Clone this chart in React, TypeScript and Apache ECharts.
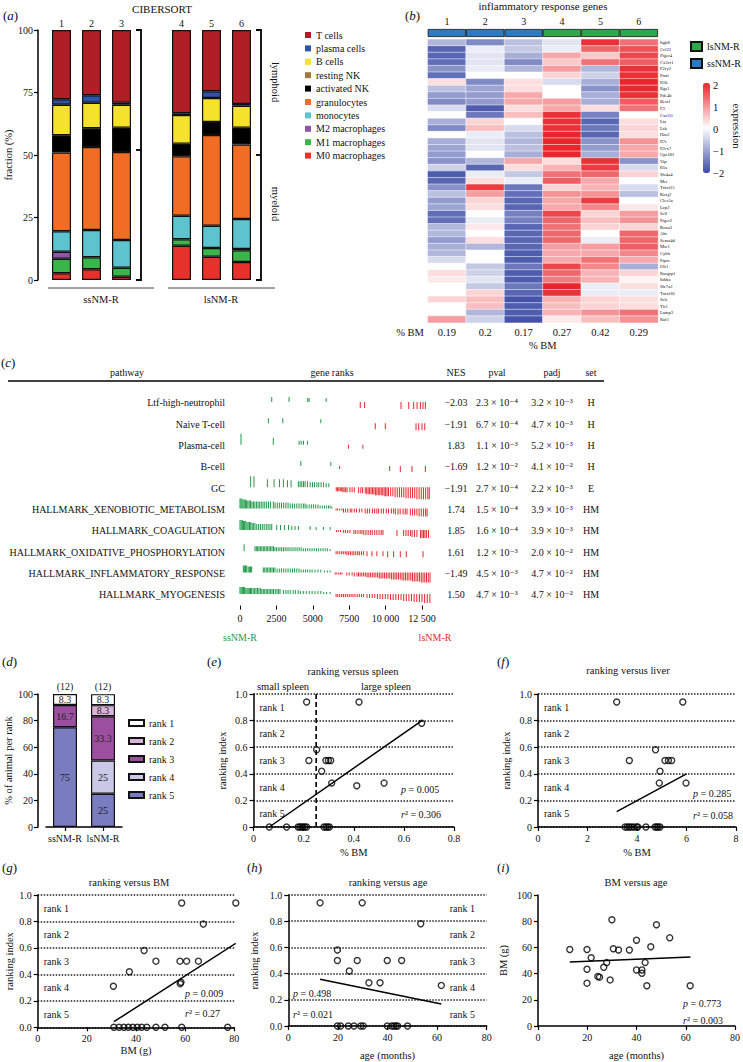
import React, { useEffect, useRef } from 'react';
import * as echarts from 'echarts';

const FONT = '"Liberation Serif", "DejaVu Serif", serif';
const GREEN = '#1e9a48';
const RED = '#e8262c';

// ---------- (a) CIBERSORT ----------
const sampleSlots = ['1', '2', '3', '', '4', '5', '6'];
const cellTypes = ['M0 macrophages', 'M1 macrophages', 'M2 macrophages', 'monocytes', 'granulocytes', 'activated NK', 'resting NK', 'B cells', 'plasma cells', 'T cells'];
const cellColors = ['#e8312a', '#3ab54a', '#8e55a8', '#5cc3cf', '#f26d24', '#000000', '#a07a3c', '#f4e22c', '#2b55a8', '#b01e26'];
const fracM0 = [2.7, 4.3, 1.3, null, 13.7, 9.3, 7.2];
const fracM1 = [5.8, 4.8, 3.6, null, 2.6, 3.5, 4.7];
const fracM2 = [2.8, 0, 0, null, 0, 0, 0.5];
const fracMono = [8.2, 10.9, 11.1, null, 9.4, 8.9, 12.0];
const fracGran = [31.5, 33.2, 35.2, null, 23.8, 36.3, 29.8];
const fracActNK = [6.9, 7.5, 9.7, null, 5.0, 5.2, 6.7];
const fracRestNK = [0, 0, 0, null, 0, 0, 0];
const fracB = [12.2, 10.2, 9.2, null, 11.5, 9.6, 8.8];
const fracPlasma = [2.2, 3.0, 0.8, null, 0.7, 2.7, 0.7];
const fracT = [27.7, 26.1, 29.1, null, 33.3, 24.5, 29.6];
const fractions = [fracM0, fracM1, fracM2, fracMono, fracGran, fracActNK, fracRestNK, fracB, fracPlasma, fracT];

// ---------- (b) heatmap ----------
const samples = ['1', '2', '3', '4', '5', '6'];
const bmPct = ['0.19', '0.2', '0.17', '0.27', '0.42', '0.29'];
const genes = ['Itgb8', 'Ccl22', 'Ptger4', 'Cx3cr1', 'P2ry2', 'Ptafr', 'Il10', 'Rgs1', 'Pde4b', 'Best1', 'F3', 'Cxcl11', 'Lta', 'Lck', 'Has2', 'Il7r', 'P2rx7', 'Gpr183', 'Vip', 'Il1a', 'Slc4a4', 'Met', 'Tnfsf15', 'Kcnj2', 'Clec5a', 'Lcp2', 'Sell', 'Ptger2', 'Kcna3', 'Ahr', 'Sema4d', 'Msr1', 'Cybb', 'Ptprc', 'Olr1', 'Rasgrp1', 'Inhba', 'Slc7a2', 'Tnfsf10', 'Sele', 'Tlr1', 'Lamp3', 'Raf1'];
const expr = [
  [-0.8, -1.3, -0.7, -0.3, 1.9, 1.3],
  [-1.7, -0.2, -0.6, -0.2, 1.4, 1.6],
  [-1.7, -0.3, -0.9, 0.8, 0.5, 1.7],
  [-1.6, -0.3, -1.3, 0.5, 1.3, 1.5],
  [-1.2, -0.2, -0.8, 0.9, -0.8, 1.9],
  [-1.6, 0, 0, 0.4, -0.5, 1.9],
  [0.3, -1.3, 0.3, -0.4, -0.9, 2.0],
  [-0.7, -1.0, 0.3, 0, -1.2, 2.0],
  [-1.1, -1.1, 0.8, 0, -0.9, 1.9],
  [-1.3, -1.1, 0.8, 0.9, -0.9, 1.5],
  [-0.4, -1.8, 0.3, 0.8, 0.3, 1.3],
  [0, -1.5, 0.6, 1.9, -1.4, 0],
  [-0.9, 0.4, 0, 1.9, -1.7, 0.3],
  [-1.3, 0.6, -0.4, 1.9, -1.5, 0.4],
  [0, -0.2, -0.7, 2.0, -1.7, 0.3],
  [-0.9, -0.3, -0.8, 2.0, -1.2, 1.0],
  [-1.0, -0.3, -0.7, 2.0, -1.1, 0.8],
  [-1.1, 0, -0.9, 2.0, -0.9, 0.8],
  [-1.2, -0.8, 0.8, 0.3, 1.9, -1.2],
  [-0.5, -1.7, 0.3, 0.7, 1.8, -0.4],
  [-1.8, -0.2, -0.6, 1.3, 1.4, 0.4],
  [-1.7, 0.3, -0.2, 1.5, 0.8, 0],
  [-1.2, 1.8, -1.5, 0.4, 0.7, -0.4],
  [-0.7, 0.9, -1.6, 1.0, 1.0, -0.7],
  [-1.1, 0.4, -1.7, 0.8, 1.8, 0],
  [-1.0, 0.3, -1.7, 0.8, 1.1, 0.2],
  [-1.6, 0, -1.4, 1.7, 0.4, 0.9],
  [-1.6, -0.2, -1.4, 1.4, 0.6, 1.0],
  [-0.8, 0.2, -1.7, 1.3, 0.4, 0.4],
  [-0.8, 0, -1.7, 1.4, 0, 1.4],
  [-1.1, 0.3, -1.7, 1.4, -0.2, 1.4],
  [-0.9, -0.8, -1.7, 0.9, 0.9, 1.5],
  [-0.8, 0, -1.8, 0.8, 0.8, 1.1],
  [-0.4, 0, -1.8, 0.8, 1.3, 0.8],
  [0, -0.6, -1.5, 1.7, 1.1, -0.9],
  [0.3, -0.5, -1.8, 1.4, 0.7, 0.4],
  [0.2, -0.3, -1.8, 1.2, 0.7, 0.1],
  [0, -0.6, -1.5, 2.0, -0.2, 0.3],
  [0, 0.4, -1.7, 1.9, -0.2, -0.2],
  [0.4, 0.6, -1.9, 0.7, 0.4, 0.3],
  [0, 0.6, -1.8, 0.6, 0.4, 0.3],
  [0, -0.8, -1.8, 0.7, 1.0, 1.3],
  [0.9, -0.5, -1.9, 0.2, 0.6, 1.0],
];
const groupSsNM = [1, 1, 1, null, null, null];
const groupLsNM = [null, null, null, 1, 1, 1];

// ---------- (c) GSEA table ----------
const pathways = ['Ltf-high-neutrophil', 'Naive T-cell', 'Plasma-cell', 'B-cell', 'GC', 'HALLMARK_XENOBIOTIC_METABOLISM', 'HALLMARK_COAGULATION', 'HALLMARK_OXIDATIVE_PHOSPHORYLATION', 'HALLMARK_INFLAMMATORY_RESPONSE', 'HALLMARK_MYOGENESIS'];
const nes = [-2.03, -1.91, 1.83, -1.69, -1.91, 1.74, 1.85, 1.61, -1.49, 1.50];
const pval = [2.3e-4, 6.7e-4, 1.1e-3, 1.2e-2, 2.7e-4, 1.5e-4, 1.6e-4, 1.2e-3, 4.5e-3, 4.7e-3];
const padj = [3.2e-3, 4.7e-3, 5.2e-3, 4.1e-2, 2.2e-3, 3.9e-3, 3.9e-3, 2.0e-2, 4.7e-2, 4.7e-2];
const geneSet = ['H', 'H', 'H', 'H', 'E', 'HM', 'HM', 'HM', 'HM', 'HM'];
// [gene rank, score]; positive = ssNM-R side (green), negative = lsNM-R side (red)
const ranksLtf = [[2180, 5], [3370, 5], [4650, 4], [4750, 4], [5920, 4], [8260, -6], [8560, -6], [11060, -7], [11590, -7], [11930, -7], [12160, -7], [12390, -7], [12570, -7], [12730, -7]];
const ranksNaive = [[1950, 5], [2940, 5], [5550, 4], [9290, -6], [9980, -6], [12090, -7], [12270, -7], [12500, -7], [12690, -7]];
const ranksPlasma = [[70, 11], [2290, 7], [4060, 4], [4200, 4], [4360, 4], [4630, 4], [7450, -4], [8440, -4]];
const ranksBcell = [[4180, 5], [6240, 4], [6840, -3], [10280, -5], [11010, -6], [11810, -6], [12730, -6]];
const ranksGC = [[730, 11], [960, 11], [1880, 8], [2340, 8], [2710, 8], [2980, 8], [3260, 7], [3510, 7], [4010, 6], [4130, 6], [4240, 6], [4360, 6], [4470, 6], [4630, 6], [4820, 5], [4980, 5], [5120, 5], [5280, 5], [5410, 5], [5570, 5], [5740, 5], [5920, 4], [6100, 4],
  [6610, -4], [6700, -4], [6790, -4], [6880, -4], [6960, -4], [7060, -5], [7150, -5], [7260, -5], [7350, -5], [7550, -5], [7700, -5], [7850, -5], [8150, -6], [8300, -6], [8420, -6], [8600, -6], [8700, -7], [8800, -7], [8900, -7], [9000, -7], [9100, -7], [9200, -7], [9300, -8], [9400, -8], [9500, -8], [9600, -8], [9700, -8], [9800, -8], [9900, -9], [10000, -9], [10100, -9], [10200, -9], [10350, -9], [10500, -9], [10650, -10], [10800, -10], [10950, -10], [11100, -10], [11250, -10], [11400, -11], [11550, -11], [11700, -11], [11850, -11], [12000, -11], [12150, -12], [12300, -12], [12450, -12], [12600, -12], [12750, -12], [12900, -12], [13000, -12]];
const ranksXeno = [[0, 10], [70, 10], [140, 10], [210, 9], [290, 9], [370, 9], [450, 8], [540, 8], [630, 8], [720, 8], [820, 7], [920, 7], [1020, 7], [1130, 7], [1240, 7], [1350, 7], [1460, 7], [1580, 7], [1700, 7], [1830, 7], [1960, 7], [2100, 7], [2290, 7], [2410, 6], [2560, 6], [2700, 6], [2850, 6], [3000, 6], [3150, 6], [3300, 6], [3450, 5], [3600, 5], [3750, 5], [3900, 5], [4050, 5], [4200, 5], [4350, 5], [4470, 5], [4590, 4], [4750, 4], [4900, 4], [5050, 4], [5200, 4], [5350, 4], [5500, 3], [5650, 3], [5800, 3], [5950, 3], [6080, 3], [6190, 3], [6310, 2],
  [6600, -2], [6700, -2], [6850, -2], [7000, -2], [7110, -4], [7250, -4], [7400, -4], [7570, -4], [7680, -4], [7850, -4], [8000, -4], [8200, -4], [8370, -4], [8600, -5], [8750, -5], [8900, -5], [9100, -5], [9250, -5], [9400, -5], [9520, -5], [9700, -5], [9850, -5], [10050, -5], [10200, -5], [10400, -5], [10550, -5], [10670, -6], [10850, -6], [11000, -6], [11200, -6], [11350, -6], [11470, -6], [11700, -7], [11850, -7], [12000, -7], [12150, -7], [12300, -8], [12450, -8], [12600, -8], [12750, -8], [12850, -8]];
const ranksCoag = [[0, 10], [80, 10], [160, 10], [240, 9], [320, 9], [400, 9], [480, 8], [560, 8], [650, 8], [740, 8], [830, 7], [920, 7], [1030, 7], [1150, 6], [1280, 6], [1400, 6], [1530, 6], [1660, 6], [1800, 6], [1930, 6], [2060, 6], [2180, 6], [2520, 5], [2780, 5], [3050, 5], [3330, 5], [3560, 4], [3780, 4], [4010, 4], [4820, 4], [5230, 3], [5730, 3], [6190, 3],
  [6620, -2], [6750, -2], [6900, -2], [7120, -3], [7250, -3], [7400, -3], [7550, -3], [7820, -4], [7950, -4], [8100, -4], [8250, -4], [8370, -4], [8500, -5], [8650, -5], [8800, -5], [8950, -5], [9080, -5], [9250, -5], [9400, -5], [9550, -5], [9700, -5], [9820, -5], [10780, -6], [11240, -6], [11400, -6], [11550, -6], [11700, -6], [11820, -7], [11980, -7], [12150, -7], [12400, -8], [12500, -8], [12600, -8], [12700, -8], [12800, -8], [12950, -8]];
const ranksOxphos = [[280, 7], [1030, 5], [1120, 5], [1210, 5], [1300, 5], [1400, 5], [1500, 5], [1600, 5], [1700, 5], [1800, 5], [1900, 5], [2000, 5], [2100, 5], [2200, 5], [2300, 5], [2400, 4], [2500, 4], [2620, 4], [2740, 4], [2860, 4], [2980, 4], [3100, 4], [3230, 4], [3360, 4], [3500, 4], [3640, 4], [3780, 4], [3920, 4], [4060, 4], [4200, 4], [4350, 3], [4500, 3], [4650, 3], [4800, 3], [4950, 3], [5100, 3], [5250, 3], [5400, 3], [5550, 3], [5700, 3], [5850, 3], [6000, 3], [6190, 2],
  [6600, -3], [6720, -3], [6850, -3], [6980, -3], [7100, -3], [7230, -3], [7340, -4], [7460, -4], [7580, -4], [7700, -4], [7820, -4], [7950, -4], [8080, -4], [8200, -4], [8340, -4], [8490, -4], [8720, -5], [9060, -5], [9400, -5], [9820, -5], [10140, -6], [10550, -6], [11010, -6], [11420, -6], [12570, -6]];
const ranksInflam = [[230, 7], [300, 7], [380, 7], [460, 7], [560, 6], [640, 6], [720, 6], [800, 6], [1600, 5], [1700, 5], [1800, 5], [1900, 5], [2000, 5], [2100, 5], [2200, 5], [2300, 5], [2400, 5], [2550, 4], [2700, 4], [2850, 4], [3000, 4], [3150, 4], [3300, 4], [3450, 4], [3600, 4], [3750, 4], [3900, 4], [4050, 4], [4200, 3], [4350, 3], [4500, 3], [4650, 3], [4800, 3], [4950, 3], [5150, 3], [5350, 3], [5550, 3], [5800, 2], [6000, 2], [6190, 2],
  [6540, -2], [6650, -2], [6780, -2], [6900, -2], [7000, -2], [7340, -3], [7500, -3], [7700, -3], [7850, -4], [8030, -4], [8140, -4], [8250, -4], [8370, -4], [8490, -4], [8610, -4], [8730, -5], [8850, -5], [8970, -5], [9090, -5], [9210, -5], [9330, -5], [9450, -5], [9570, -6], [9690, -6], [9810, -6], [9930, -6], [10050, -6], [10170, -6], [10290, -6], [10410, -7], [10530, -7], [10650, -7], [10770, -7], [10890, -7], [11010, -7], [11130, -8], [11250, -8], [11370, -8], [11490, -8], [11610, -8], [11730, -8], [11850, -9], [11970, -9], [12090, -9], [12210, -9], [12330, -9], [12450, -10], [12570, -10], [12690, -10], [12810, -10], [12930, -10], [13050, -10]];
const ranksMyo = [[0, 7], [80, 7], [160, 7], [240, 7], [320, 7], [400, 6], [480, 6], [560, 6], [640, 6], [720, 6], [800, 6], [900, 6], [1000, 6], [1100, 6], [1200, 6], [1300, 6], [1400, 6], [1500, 5], [1600, 5], [1700, 5], [1800, 5], [1900, 5], [2000, 5], [2100, 5], [2200, 5], [2300, 5], [2420, 5], [2540, 5], [2650, 5], [2750, 5], [2980, 4], [3150, 4], [3300, 4], [3450, 4], [3650, 4], [3800, 4], [4000, 4], [4150, 3], [4350, 3], [4550, 3], [4750, 3], [4950, 3], [5150, 3], [5350, 3], [5550, 3], [5750, 2], [5950, 2], [6190, 2],
  [6600, -3], [6720, -3], [6850, -3], [6980, -3], [7110, -3], [7240, -3], [7370, -3], [7500, -3], [7630, -3], [7760, -3], [7900, -3], [8050, -3], [8200, -3], [8350, -3], [8490, -3], [8720, -4], [8900, -4], [9080, -4], [9260, -4], [9440, -5], [9620, -5], [9800, -5], [9980, -5], [10160, -5], [10340, -6], [10520, -6], [10700, -6], [10880, -6], [11060, -6], [11240, -7], [11420, -7], [11600, -7], [11780, -7], [11960, -8], [12140, -8], [12320, -8], [12500, -8], [12680, -9], [12860, -9], [13040, -9]];
const rankRows = [ranksLtf, ranksNaive, ranksPlasma, ranksBcell, ranksGC, ranksXeno, ranksCoag, ranksOxphos, ranksInflam, ranksMyo];

// ---------- (d) ranks per group ----------
const groups = ['ssNM-R', 'lsNM-R'];
const rankNames = ['rank 5', 'rank 4', 'rank 3', 'rank 2', 'rank 1'];
const rankColors = ['#7a7cc0', '#c9c9e7', '#9c4f9f', '#dab4da', '#ffffff'];
const pctRank5 = [75, 25];
const pctRank4 = [0, 25];
const pctRank3 = [16.7, 33.3];
const pctRank2 = [0, 8.3];
const pctRank1 = [8.3, 8.3];
const rankPct = [pctRank5, pctRank4, pctRank3, pctRank2, pctRank1];
const nAnimals = [12, 12];

// ---------- (e)-(i) scatter ----------
const rankVsSpleen = [[0.212, 0.94], [0.421, 0.94], [0.671, 0.78], [0.252, 0.58], [0.221, 0.5], [0.289, 0.5], [0.299, 0.5], [0.308, 0.5], [0.272, 0.42], [0.312, 0.33], [0.412, 0.31], [0.521, 0.33], [0.063, 0], [0.132, 0], [0.178, 0], [0.185, 0], [0.192, 0], [0.198, 0], [0.205, 0], [0.212, 0], [0.281, 0], [0.289, 0], [0.296, 0], [0.303, 0]];
const rankVsLiver = [[3.18, 0.94], [5.85, 0.94], [4.75, 0.58], [3.69, 0.5], [5.13, 0.5], [5.27, 0.5], [5.40, 0.5], [4.93, 0.42], [4.90, 0.33], [5.98, 0.33], [3.52, 0], [3.61, 0], [3.69, 0], [3.78, 0], [3.88, 0], [3.99, 0], [4.03, 0], [4.36, 0], [4.73, 0], [4.80, 0], [4.86, 0], [4.93, 0]];
const rankVsBM = [[58.6, 0.94], [80.6, 0.94], [67.4, 0.78], [43.3, 0.58], [48.1, 0.5], [57.9, 0.5], [60.6, 0.5], [65.4, 0.5], [37.3, 0.42], [58.0, 0.33], [58.3, 0.34], [30.8, 0.31], [31.0, 0], [33.1, 0], [35.1, 0], [36.9, 0], [38.7, 0], [40.5, 0], [42.3, 0], [44.4, 0], [48.1, 0], [51.8, 0], [58.6, 0], [77.3, 0]];
const rankVsAge = [[12.8, 0.94], [29.8, 0.94], [53.4, 0.78], [19.8, 0.58], [19.8, 0.5], [27.8, 0.5], [39.9, 0.5], [45.7, 0.5], [24.6, 0.42], [32.5, 0.33], [37.0, 0.33], [61.7, 0.31], [19.8, 0], [21.1, 0], [24.2, 0], [26.5, 0], [29.2, 0], [30.2, 0], [39.9, 0], [41.7, 0], [42.6, 0], [43.4, 0], [44.1, 0], [48.1, 0]];
const bmVsAge = [[12.9, 58.4], [19.9, 58.4], [19.9, 43.3], [19.9, 32.7], [21.6, 52.1], [24.3, 37.8], [25.0, 37.3], [26.7, 44.8], [27.9, 48.4], [29.3, 35.2], [30.0, 81.1], [30.6, 59.0], [32.7, 58.0], [37.1, 58.0], [40.0, 65.5], [40.0, 42.8], [42.2, 42.8], [42.2, 40.3], [43.5, 48.4], [44.2, 30.7], [45.8, 60.5], [48.1, 77.3], [53.5, 67.3], [61.8, 30.7]];
const fitSpleen = [[0.063, 0], [0.672, 0.8]];
const fitLiver = [[3.18, 0.115], [6.0, 0.40]];
const fitBM = [[31.0, 0.042], [80.6, 0.635]];
const fitAge = [[12.8, 0.357], [61.7, 0.168]];
const fitBMAge = [[12.9, 48.8], [61.9, 52.6]];
const spleenCut = [[0.25, 0], [0.25, 1]];
const statP = ['0.005', '0.285', '0.009', '0.498', '0.773'];
const statR2 = ['0.306', '0.058', '0.27', '0.021', '0.003'];
const rankBands = ['rank 1', 'rank 2', 'rank 3', 'rank 4', 'rank 5'];
const rankBandMid = [0.9, 0.7, 0.5, 0.3, 0.1];

// ---------- helpers ----------
const SUP: Record<string, string> = { '-': '⁻', '0': '⁰', '1': '¹', '2': '²', '3': '³', '4': '⁴', '5': '⁵', '6': '⁶', '7': '⁷', '8': '⁸', '9': '⁹' };
const sci = (v: number) => {
  const e = Math.floor(Math.log10(v) + 1e-9);
  const m = v / Math.pow(10, e);
  return `${m.toFixed(1)} × 10${String(e).split('').map((c) => SUP[c]).join('')}`;
};
const minus = (s: string) => s.replace('-', '−');

const G = [
  { left: 46.5, top: 30, width: 210, height: 250 },
  { left: 427.7, top: 39.3, width: 230.3, height: 283.4 },
  { left: 427.7, top: 29, width: 230.3, height: 8 },
  { left: 703, top: 85, width: 7, height: 88 },
  { left: 240, top: 392.3, width: 182, height: 213.3 },
  { left: 46, top: 694, width: 76, height: 133 },
  { left: 253.5, top: 694, width: 200.5, height: 133 },
  { left: 538, top: 694, width: 198, height: 133 },
  { left: 37.7, top: 895, width: 196.6, height: 132.3 },
  { left: 288.3, top: 895, width: 198.4, height: 132.3 },
  { left: 538, top: 895, width: 198.7, height: 132.3 },
];

const AX_LINE = { show: true, lineStyle: { color: '#000', width: 1.5 } };
const AX_TICK = { show: true, length: 4, lineStyle: { color: '#000', width: 1.2 } };
const lbl = (extra: any = {}) => ({ fontSize: 10, color: '#111', fontFamily: FONT, ...extra });
const NAME = { fontSize: 10.5, color: '#111', fontFamily: FONT };

function txt(x: number, y: number, text: string, o: any = {}) {
  return {
    type: 'text', x, y, rotation: o.rot || 0, silent: true,
    style: {
      text, fontFamily: FONT, fontSize: o.size || 10, fill: o.fill || '#111',
      align: o.align || 'center', verticalAlign: 'middle',
      fontStyle: o.italic ? 'italic' : 'normal',
      rich: o.rich,
    },
  };
}
const ital = (size: number) => ({ i: { fontStyle: 'italic', fontFamily: FONT, fontSize: size, fill: '#111' } });
const line = (x1: number, y1: number, x2: number, y2: number, w = 1.5, c = '#000') => ({ type: 'line', silent: true, shape: { x1, y1, x2, y2 }, style: { stroke: c, lineWidth: w } });
const poly = (points: number[][], w = 1.8) => ({ type: 'polyline', silent: true, shape: { points }, style: { stroke: '#000', lineWidth: w, fill: null } });

function scatterAxes(gi: number, xr: number[], yr: number[], xfmt: any, yfmt: any, xname: string, xgap: number, yname: string, ygap: number, dotted: boolean) {
  const x = {
    type: 'value', gridIndex: gi, min: xr[0], max: xr[1], interval: xr[2],
    axisLine: AX_LINE, axisTick: AX_TICK, splitLine: { show: false },
    axisLabel: lbl({ formatter: xfmt, margin: 6 }),
    name: xname, nameLocation: 'middle', nameGap: xgap, nameTextStyle: NAME,
  };
  const y = {
    type: 'value', gridIndex: gi, min: yr[0], max: yr[1], interval: yr[2],
    axisLine: AX_LINE, axisTick: AX_TICK,
    splitLine: { show: dotted, lineStyle: { type: [1.5, 1.5], color: '#222', width: 1.5 } },
    axisLabel: lbl({ formatter: yfmt, margin: 6 }),
    name: yname, nameLocation: 'middle', nameGap: ygap, nameTextStyle: NAME,
  };
  return [x, y];
}
const fmt1 = (v: number) => (v === 0 ? '0' : v.toFixed(1));
const fmt1z = (v: number) => v.toFixed(1);
const fmtInt = (v: number) => String(Math.round(v));

export default function App() {
  const ref = useRef<HTMLDivElement>(null);
  useEffect(() => {
    if (!ref.current) return;
    const chart = echarts.init(ref.current, undefined, { renderer: 'svg' });

    const series: any[] = [];
    // (a)
    cellTypes.forEach((name, i) => {
      series.push({
        type: 'bar', name, stack: 'a', xAxisIndex: 0, yAxisIndex: 0, barWidth: 19,
        data: fractions[i].map((v) => (v ? v : '-')),
        itemStyle: { color: cellColors[i], borderColor: '#111', borderWidth: 1.2 },
      });
    });
    // (b)
    const hmData: number[][] = [];
    expr.forEach((row, r) => row.forEach((v, c) => hmData.push([c, r, v])));
    const hmIndex = series.length;
    series.push({ type: 'heatmap', xAxisIndex: 1, yAxisIndex: 1, data: hmData, itemStyle: { borderColor: '#ffffff', borderWidth: 0.5 } });
    series.push({ type: 'bar', name: 'ssNM-R', xAxisIndex: 2, yAxisIndex: 2, barWidth: '100%', barGap: '-100%', data: groupSsNM.map((v) => (v ? v : '-')), itemStyle: { color: '#2a7bc4', borderColor: '#111', borderWidth: 0.8 } });
    series.push({ type: 'bar', name: 'lsNM-R', xAxisIndex: 2, yAxisIndex: 2, barWidth: '100%', barGap: '-100%', data: groupLsNM.map((v) => (v ? v : '-')), itemStyle: { color: '#2ea84a', borderColor: '#111', borderWidth: 0.8 } });
    series.push({ type: 'scatter', xAxisIndex: 3, yAxisIndex: 3, data: [] });
    // (c)
    const rankData: number[][] = [];
    rankRows.forEach((row, r) => row.forEach(([rk, h]) => rankData.push([rk, r, h])));
    series.push({
      type: 'custom', xAxisIndex: 4, yAxisIndex: 4, data: rankData, clip: false,
      renderItem: (_p: any, api: any) => {
        const pt = api.coord([api.value(0), api.value(1)]);
        const h = api.value(2);
        const base = pt[1] - 1;
        return { type: 'rect', shape: { x: pt[0] - 0.5, y: h > 0 ? base - h : base, width: 1, height: Math.abs(h) }, style: { fill: h > 0 ? GREEN : RED } };
      },
    });
    // (d)
    rankNames.forEach((name, i) => {
      series.push({
        type: 'bar', name, stack: 'd', xAxisIndex: 5, yAxisIndex: 9, barWidth: 24,
        data: rankPct[i].map((v) => (v ? v : '-')),
        itemStyle: { color: rankColors[i], borderColor: '#111', borderWidth: 1.2 },
        label: { show: true, position: 'inside', fontSize: 10, fontFamily: FONT, color: '#222', formatter: (p: any) => String(p.value) },
      });
    });
    series.push({
      type: 'bar', name: 'n', stack: 'd', xAxisIndex: 5, yAxisIndex: 9, barWidth: 24,
      data: nAnimals.map(() => 0), itemStyle: { color: 'rgba(0,0,0,0)', borderWidth: 0 },
      label: { show: true, position: 'top', distance: 3, fontSize: 10, fontFamily: FONT, color: '#222', formatter: (p: any) => `(${nAnimals[p.dataIndex]})` },
    });
    // (e)-(i)
    const scat = [rankVsSpleen, rankVsLiver, rankVsBM, rankVsAge, bmVsAge];
    const fits = [fitSpleen, fitLiver, fitBM, fitAge, fitBMAge];
    scat.forEach((d, k) => {
      series.push({
        type: 'scatter', xAxisIndex: 6 + k, yAxisIndex: 10 + k, data: d, symbol: 'circle', symbolSize: 6, clip: false,
        itemStyle: { color: 'rgba(0,0,0,0)', borderColor: '#000', borderWidth: 1.4 },
      });
      series.push({
        type: 'line', xAxisIndex: 6 + k, yAxisIndex: 10 + k, data: fits[k], symbol: 'none',
        lineStyle: { color: '#000', width: 1.5 },
      });
    });
    series.push({ type: 'line', xAxisIndex: 6, yAxisIndex: 10, data: spleenCut, symbol: 'none', lineStyle: { color: '#000', width: 1.6, type: [5, 3] } });

    const xAxis: any[] = [
      { type: 'category', gridIndex: 0, data: sampleSlots, position: 'top', axisLine: { show: false }, axisTick: { show: false }, axisLabel: lbl({ margin: 2 }) },
      { type: 'category', gridIndex: 1, data: samples, position: 'bottom', axisLine: { show: false }, axisTick: { show: false },
        axisLabel: lbl({ fontSize: 10.5, margin: 4, formatter: (_v: string, i: number) => bmPct[i] }),
        name: '% BM', nameLocation: 'middle', nameGap: 17, nameTextStyle: NAME },
      { type: 'category', gridIndex: 2, data: samples, position: 'top', axisLine: { show: false }, axisTick: { show: false }, axisLabel: lbl({ margin: 3 }) },
      { type: 'value', gridIndex: 3, show: false, min: 0, max: 1 },
      { type: 'value', gridIndex: 4, min: 0, max: 12500, interval: 2500, axisLine: { show: false }, axisTick: { show: true, length: 4, lineStyle: { color: '#000', width: 1 } }, splitLine: { show: false },
        axisLabel: lbl({ margin: 8, formatter: (v: number) => (v >= 10000 ? `${Math.floor(v / 1000)} ${String(v % 1000).padStart(3, '0')}` : String(v)) }) },
      { type: 'category', gridIndex: 5, data: groups, axisLine: AX_LINE, axisTick: { ...AX_TICK, alignWithLabel: true }, axisLabel: lbl({ margin: 6, interval: 0 }) },
    ];
    const yAxis: any[] = [
      { type: 'value', gridIndex: 0, min: 0, max: 100, interval: 25, offset: 8.5, axisLine: AX_LINE, axisTick: AX_TICK, splitLine: { show: false }, axisLabel: lbl({ margin: 5 }),
        name: 'fraction (%)', nameLocation: 'middle', nameGap: 21, nameTextStyle: NAME },
      { type: 'category', gridIndex: 1, data: genes, inverse: true, position: 'right', axisLine: { show: false }, axisTick: { show: false }, axisLabel: lbl({ fontSize: 4.6, margin: 2, interval: 0 }) },
      { type: 'value', gridIndex: 2, show: false, min: 0, max: 1 },
      { type: 'value', gridIndex: 3, min: -2, max: 2, interval: 1, position: 'right', axisLine: { show: false }, axisTick: { show: false }, splitLine: { show: false }, axisLabel: lbl({ fontSize: 10.5, margin: 3, formatter: (v: number) => minus(String(v)) }) },
      { type: 'category', gridIndex: 4, data: pathways, inverse: true, position: 'left', axisLine: { show: false }, axisTick: { show: false }, axisLabel: lbl({ margin: 15, interval: 0 }) },
      { type: 'category', gridIndex: 4, data: nes.map((v) => (v < 0 ? '−' : '') + Math.abs(v).toFixed(2)), inverse: true, position: 'right', axisLine: { show: false }, axisTick: { show: false }, axisLabel: lbl({ margin: 34, align: 'center', interval: 0 }) },
      { type: 'category', gridIndex: 4, data: pval.map(sci), inverse: true, position: 'right', axisLine: { show: false }, axisTick: { show: false }, axisLabel: lbl({ margin: 75, align: 'center', interval: 0 }) },
      { type: 'category', gridIndex: 4, data: padj.map(sci), inverse: true, position: 'right', axisLine: { show: false }, axisTick: { show: false }, axisLabel: lbl({ margin: 130, align: 'center', interval: 0 }) },
      { type: 'category', gridIndex: 4, data: geneSet, inverse: true, position: 'right', axisLine: { show: false }, axisTick: { show: false }, axisLabel: lbl({ margin: 169, align: 'center', interval: 0 }) },
      { type: 'value', gridIndex: 5, min: 0, max: 100, interval: 20, offset: 8, axisLine: AX_LINE, axisTick: AX_TICK, splitLine: { show: false }, axisLabel: lbl({ margin: 5 }),
        name: '% of animal per rank', nameLocation: 'middle', nameGap: 23, nameTextStyle: NAME },
    ];
    const sa = [
      scatterAxes(6, [0, 0.8, 0.2], [0, 1, 0.2], fmt1, fmt1, '% BM', 20, 'ranking index', 26, true),
      scatterAxes(7, [0, 8, 2], [0, 1, 0.2], fmtInt, fmt1, '% BM', 20, 'ranking index', 26, true),
      scatterAxes(8, [0, 80, 20], [0, 1, 0.2], fmtInt, fmt1z, 'BM (g)', 18, 'ranking index', 22, true),
      scatterAxes(9, [0, 80, 20], [0, 1, 0.2], fmtInt, fmt1z, 'age (months)', 24, 'ranking index', 28, true),
      scatterAxes(10, [0, 80, 20], [0, 100, 20], fmtInt, fmtInt, 'age (months)', 24, 'BM (g)', 29, false),
    ];
    sa.forEach(([x, y]) => { xAxis.push(x); yAxis.push(y); });

    // graphic annotations
    const gr: any[] = [];
    const letter = (x: number, y: number, l: string) => txt(x, y, `({i|${l}})`, { align: 'left', size: 13, rich: ital(13) });
    gr.push(letter(3, 15, 'a'), letter(405, 15, 'b'), letter(1, 362, 'c'), letter(2, 661, 'd'), letter(207, 661, 'e'), letter(497, 661, 'f'), letter(2, 867, 'g'), letter(247, 867, 'h'), letter(497, 867, 'i'));
    // (a)
    gr.push(txt(162, 9, 'CIBERSORT', { size: 11 }));
    gr.push(poly([[136, 30], [141, 30], [141, 280], [136, 280]]), line(136, 150, 141, 150, 1.8));
    gr.push(poly([[256, 30], [261, 30], [261, 280], [256, 280]]), line(256, 155, 261, 155, 1.8));
    gr.push(txt(275, 82, 'lymphoid', { size: 10.5, rot: -Math.PI / 2 }), txt(275, 204, 'myeloid', { size: 10.5, rot: -Math.PI / 2 }));
    gr.push(line(48, 288, 154, 288, 1, '#444'), line(168, 288, 275, 288, 1, '#444'));
    gr.push(txt(101, 299, 'ssNM-R', { size: 10.5 }), txt(221, 299, 'lsNM-R', { size: 10.5 }));
    // (b)
    gr.push(txt(543, 6, 'inflammatory response genes', { size: 11 }));
    gr.push(txt(410, 332, '% BM', { size: 10.5 }));
    gr.push(txt(736, 126, 'expression', { size: 10.5, rot: -Math.PI / 2 }));
    // (c)
    gr.push(line(8, 381, 604, 381, 1.5));
    gr.push(txt(127, 372, 'pathway'), txt(332, 372, 'gene ranks'), txt(456, 372, 'NES'), txt(497, 372, 'pval'), txt(552, 372, 'padj'), txt(591, 372, 'set'));
    gr.push(txt(240, 637, 'ssNM-R', { fill: GREEN }), txt(435, 637, 'lsNM-R', { fill: RED }));
    // (e)-(h) rank bands
    [6, 7, 8].forEach((gi) => {
      const g = G[gi];
      rankBands.forEach((r, i) => gr.push(txt(g.left + 6, g.top + g.height * (1 - rankBandMid[i]), r, { align: 'left' })));
    });
    {
      const g = G[9];
      rankBands.forEach((r, i) => gr.push(txt(475, g.top + g.height * (1 - rankBandMid[i]), r, { align: 'right' })));
    }
    gr.push(txt(353, 671, 'ranking versus spleen', { size: 10.5 }), txt(283, 686, 'small spleen', { size: 10.5 }), txt(386, 686, 'large spleen', { size: 10.5 }));
    gr.push(txt(628, 670, 'ranking versus liver', { size: 10.5 }));
    gr.push(txt(129, 882, 'ranking versus BM', { size: 10.5 }), txt(388, 882, 'ranking versus age', { size: 10.5 }), txt(636, 882, 'BM versus age', { size: 10.5 }));
    const statPos = [[401, 789, 814], [693, 793, 815], [185, 993, 1013], [293, 993, 1014], [683, 1003, 1020]];
    statPos.forEach(([x, yp, yr], k) => {
      gr.push(txt(x, yp, `{i|p} = ${statP[k]}`, { align: 'left', rich: ital(10) }));
      gr.push(txt(x, yr, `{i|r}² = ${statR2[k]}`, { align: 'left', rich: ital(10) }));
    });

    const option: any = {
      animation: false,
      textStyle: { fontFamily: FONT },
      grid: G.map((g) => ({ ...g, containLabel: false })),
      xAxis, yAxis, series,
      legend: [
        { data: cellTypes.slice().reverse(), orient: 'vertical', left: 305, top: 30, padding: 0, itemWidth: 6, itemHeight: 6, itemGap: 3.4, icon: 'rect', selectedMode: false,
          itemStyle: { borderWidth: 0 }, textStyle: { fontSize: 10, lineHeight: 10, fontFamily: FONT, color: '#111' } },
        { data: ['lsNM-R', 'ssNM-R'], orient: 'vertical', left: 690, top: 41, padding: 0, itemWidth: 11, itemHeight: 9, itemGap: 6, icon: 'rect', selectedMode: false,
          textStyle: { fontSize: 10, lineHeight: 9, fontFamily: FONT, color: '#111' } },
        { data: ['rank 1', 'rank 2', 'rank 3', 'rank 4', 'rank 5'], orient: 'vertical', left: 128, top: 718, padding: 0, itemWidth: 15, itemHeight: 6, itemGap: 8, icon: 'rect', selectedMode: false,
          textStyle: { fontSize: 10, lineHeight: 10, fontFamily: FONT, color: '#111' } },
      ],
      visualMap: {
        type: 'continuous', min: -2, max: 2, seriesIndex: hmIndex, left: 703, top: 83, itemWidth: 7, itemHeight: 90,
        calculable: false, padding: 0, orient: 'vertical', show: true,
        inRange: { color: ['#3b4ba6', '#ffffff', '#e9262c'] },
      },
      graphic: { elements: gr },
    };
    chart.setOption(option);
    return () => chart.dispose();
  }, []);
  return <div ref={ref} style={{ position: 'absolute', left: 0, top: 0, width: 743, height: 1062, background: '#fff' }} />;
}
